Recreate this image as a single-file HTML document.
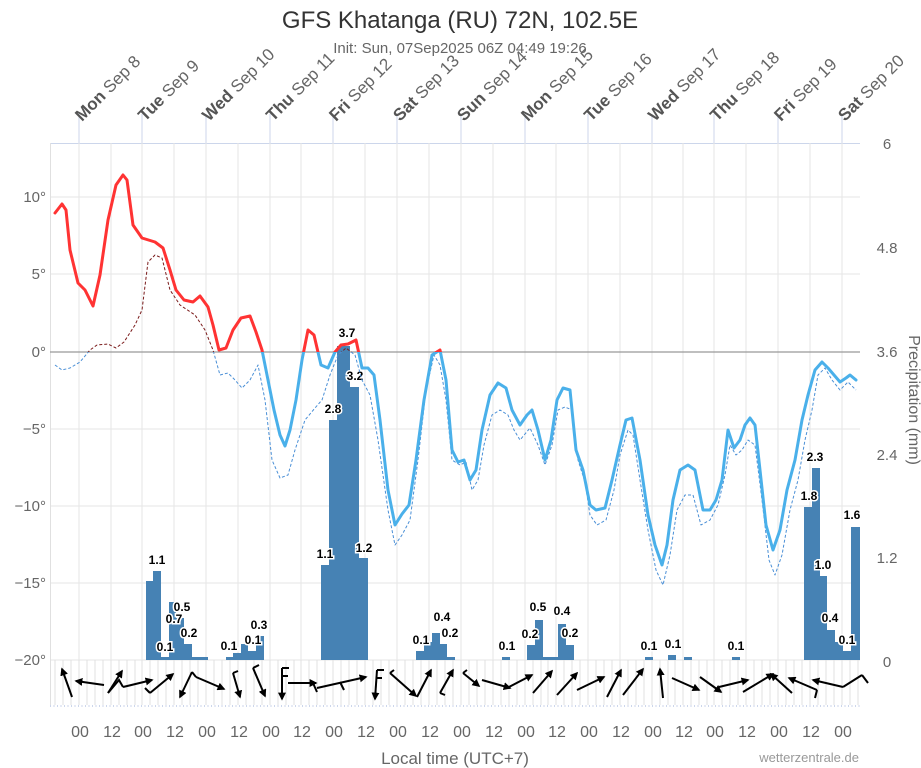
<!DOCTYPE html>
<html><head><meta charset="utf-8"><style>
body{margin:0;background:#fff;}
svg{display:block;font-family:"Liberation Sans","DejaVu Sans",sans-serif;}
</style></head><body>
<svg width="921" height="768" viewBox="0 0 921 768" xmlns="http://www.w3.org/2000/svg">
<defs>
<marker id="ah" viewBox="0 0 10 10" refX="8" refY="5" markerWidth="4" markerHeight="4" orient="auto"><path d="M0,0L10,5L0,10z" fill="#000"/></marker>
<clipPath id="above"><rect x="40" y="100" width="830" height="252"/></clipPath>
<clipPath id="below"><rect x="40" y="352" width="830" height="320"/></clipPath>
<path id="dp" d="M55,365 L62,370 L70,368 L80,362 L90,350 L97,345 L108,344 L116,348 L124,342 L135,325 L142,310 L148,262 L155,255 L162,258 L170,290 L180,305 L195,315 L205,330 L213,350 L220,375 L228,373 L235,380 L242,388 L250,380 L258,365 L265,400 L272,460 L280,478 L288,475 L295,450 L305,420 L315,408 L322,400 L330,375 L338,355 L346,348 L355,355 L362,380 L370,395 L378,440 L388,510 L395,545 L402,535 L410,520 L418,460 L426,390 L434,355 L440,365 L446,400 L452,460 L460,465 L466,462 L472,490 L478,480 L484,445 L492,415 L500,410 L508,415 L514,430 L520,440 L530,428 L538,445 L545,465 L552,445 L558,410 L565,407 L572,410 L578,460 L585,482 L590,515 L597,525 L606,520 L614,490 L620,455 L628,430 L633,435 L640,480 L648,530 L656,570 L663,585 L670,555 L677,510 L685,495 L693,495 L701,525 L710,520 L718,505 L725,475 L730,445 L736,455 L742,450 L748,440 L755,445 L762,500 L769,560 L775,575 L782,555 L790,510 L798,480 L805,440 L812,410 L818,375 L825,368 L832,380 L840,390 L848,382 L856,390"/>
<path id="tt" d="M55,213 L62,204 L66,210 L70,250 L78,283 L85,290 L93,306 L100,275 L108,220 L116,185 L123,175 L127,180 L133,225 L142,238 L155,242 L163,248 L170,270 L176,290 L184,300 L193,302 L200,296 L208,307 L213,325 L219,350 L226,348 L233,330 L241,318 L250,316 L256,332 L262,350 L268,380 L274,410 L280,435 L285,446 L290,430 L296,400 L302,360 L308,330 L314,335 L321,365 L328,368 L335,352 L341,345 L348,344 L356,340 L362,368 L368,368 L374,375 L380,420 L388,490 L395,525 L402,514 L409,505 L416,460 L424,400 L432,355 L440,350 L446,380 L452,450 L458,462 L464,460 L470,480 L476,470 L482,430 L490,395 L498,383 L506,388 L512,410 L520,425 L527,415 L532,410 L538,430 L545,460 L551,440 L557,400 L563,388 L570,390 L576,450 L583,470 L590,505 L596,510 L605,508 L612,480 L620,445 L626,420 L632,418 L640,460 L648,515 L655,545 L662,565 L667,545 L673,500 L680,470 L688,465 L695,470 L703,510 L710,510 L716,500 L722,480 L728,430 L734,448 L740,440 L745,425 L750,418 L755,425 L760,470 L766,525 L773,550 L780,530 L787,490 L795,460 L802,420 L808,395 L815,370 L822,362 L828,368 L834,375 L840,382 L846,378 L850,375 L856,380"/>
</defs>
<text x="460" y="28" text-anchor="middle" font-size="24" fill="#333">GFS Khatanga (RU) 72N, 102.5E</text>
<text x="460" y="53" text-anchor="middle" font-size="15" fill="#666">Init: Sun, 07Sep2025 06Z 04:49 19:26</text>
<g stroke="#e6e6e6" stroke-width="1">
<line x1="50" y1="197" x2="860" y2="197"/><line x1="50" y1="274" x2="860" y2="274"/>
<line x1="50" y1="429" x2="860" y2="429"/><line x1="50" y1="506" x2="860" y2="506"/>
<line x1="50" y1="583" x2="860" y2="583"/><line x1="50" y1="660" x2="860" y2="660"/>
</g>
<line x1="50" y1="143.5" x2="860" y2="143.5" stroke="#ccd6eb"/>
<line x1="50.5" y1="143" x2="50.5" y2="706" stroke="#e0e0e0"/>
<g stroke="#e6e6e6">
<line x1="79" y1="143" x2="79" y2="660"/><line x1="111" y1="143" x2="111" y2="660"/><line x1="142" y1="143" x2="142" y2="660"/><line x1="174" y1="143" x2="174" y2="660"/><line x1="206" y1="143" x2="206" y2="660"/><line x1="238" y1="143" x2="238" y2="660"/><line x1="270" y1="143" x2="270" y2="660"/><line x1="301" y1="143" x2="301" y2="660"/><line x1="333" y1="143" x2="333" y2="660"/><line x1="365" y1="143" x2="365" y2="660"/><line x1="397" y1="143" x2="397" y2="660"/><line x1="429" y1="143" x2="429" y2="660"/><line x1="461" y1="143" x2="461" y2="660"/><line x1="493" y1="143" x2="493" y2="660"/><line x1="525" y1="143" x2="525" y2="660"/><line x1="556" y1="143" x2="556" y2="660"/><line x1="588" y1="143" x2="588" y2="660"/><line x1="620" y1="143" x2="620" y2="660"/><line x1="652" y1="143" x2="652" y2="660"/><line x1="683" y1="143" x2="683" y2="660"/><line x1="714" y1="143" x2="714" y2="660"/><line x1="746" y1="143" x2="746" y2="660"/><line x1="778" y1="143" x2="778" y2="660"/><line x1="810" y1="143" x2="810" y2="660"/><line x1="842" y1="143" x2="842" y2="660"/>
</g>
<g stroke="#ccd6eb">
<line x1="79" y1="114" x2="79" y2="143"/><line x1="142" y1="114" x2="142" y2="143"/><line x1="206" y1="114" x2="206" y2="143"/><line x1="270" y1="114" x2="270" y2="143"/><line x1="333" y1="114" x2="333" y2="143"/><line x1="397" y1="114" x2="397" y2="143"/><line x1="461" y1="114" x2="461" y2="143"/><line x1="525" y1="114" x2="525" y2="143"/><line x1="588" y1="114" x2="588" y2="143"/><line x1="652" y1="114" x2="652" y2="143"/><line x1="714" y1="114" x2="714" y2="143"/><line x1="778" y1="114" x2="778" y2="143"/><line x1="842" y1="114" x2="842" y2="143"/>
</g>
<g font-size="17" fill="#666">
<text transform="translate(82,122) rotate(-45)"><tspan font-weight="bold" fill="#555">Mon</tspan> Sep 8</text>
<text transform="translate(145,122) rotate(-45)"><tspan font-weight="bold" fill="#555">Tue</tspan> Sep 9</text>
<text transform="translate(209,122) rotate(-45)"><tspan font-weight="bold" fill="#555">Wed</tspan> Sep 10</text>
<text transform="translate(273,122) rotate(-45)"><tspan font-weight="bold" fill="#555">Thu</tspan> Sep 11</text>
<text transform="translate(336,122) rotate(-45)"><tspan font-weight="bold" fill="#555">Fri</tspan> Sep 12</text>
<text transform="translate(400,122) rotate(-45)"><tspan font-weight="bold" fill="#555">Sat</tspan> Sep 13</text>
<text transform="translate(464,122) rotate(-45)"><tspan font-weight="bold" fill="#555">Sun</tspan> Sep 14</text>
<text transform="translate(528,122) rotate(-45)"><tspan font-weight="bold" fill="#555">Mon</tspan> Sep 15</text>
<text transform="translate(591,122) rotate(-45)"><tspan font-weight="bold" fill="#555">Tue</tspan> Sep 16</text>
<text transform="translate(655,122) rotate(-45)"><tspan font-weight="bold" fill="#555">Wed</tspan> Sep 17</text>
<text transform="translate(717,122) rotate(-45)"><tspan font-weight="bold" fill="#555">Thu</tspan> Sep 18</text>
<text transform="translate(781,122) rotate(-45)"><tspan font-weight="bold" fill="#555">Fri</tspan> Sep 19</text>
<text transform="translate(845,122) rotate(-45)"><tspan font-weight="bold" fill="#555">Sat</tspan> Sep 20</text>
</g>
<g stroke="#e0e0e0">
<line x1="55" y1="660" x2="55" y2="705"/><line x1="63" y1="660" x2="63" y2="705"/><line x1="71" y1="660" x2="71" y2="705"/><line x1="79" y1="660" x2="79" y2="705"/><line x1="87" y1="660" x2="87" y2="705"/><line x1="95" y1="660" x2="95" y2="705"/><line x1="103" y1="660" x2="103" y2="705"/><line x1="111" y1="660" x2="111" y2="705"/><line x1="119" y1="660" x2="119" y2="705"/><line x1="127" y1="660" x2="127" y2="705"/><line x1="135" y1="660" x2="135" y2="705"/><line x1="142" y1="660" x2="142" y2="705"/><line x1="150" y1="660" x2="150" y2="705"/><line x1="158" y1="660" x2="158" y2="705"/><line x1="166" y1="660" x2="166" y2="705"/><line x1="174" y1="660" x2="174" y2="705"/><line x1="182" y1="660" x2="182" y2="705"/><line x1="190" y1="660" x2="190" y2="705"/><line x1="198" y1="660" x2="198" y2="705"/><line x1="206" y1="660" x2="206" y2="705"/><line x1="214" y1="660" x2="214" y2="705"/><line x1="222" y1="660" x2="222" y2="705"/><line x1="230" y1="660" x2="230" y2="705"/><line x1="238" y1="660" x2="238" y2="705"/><line x1="246" y1="660" x2="246" y2="705"/><line x1="254" y1="660" x2="254" y2="705"/><line x1="262" y1="660" x2="262" y2="705"/><line x1="270" y1="660" x2="270" y2="705"/><line x1="278" y1="660" x2="278" y2="705"/><line x1="286" y1="660" x2="286" y2="705"/><line x1="294" y1="660" x2="294" y2="705"/><line x1="301" y1="660" x2="301" y2="705"/><line x1="309" y1="660" x2="309" y2="705"/><line x1="317" y1="660" x2="317" y2="705"/><line x1="325" y1="660" x2="325" y2="705"/><line x1="333" y1="660" x2="333" y2="705"/><line x1="341" y1="660" x2="341" y2="705"/><line x1="349" y1="660" x2="349" y2="705"/><line x1="357" y1="660" x2="357" y2="705"/><line x1="365" y1="660" x2="365" y2="705"/><line x1="373" y1="660" x2="373" y2="705"/><line x1="381" y1="660" x2="381" y2="705"/><line x1="389" y1="660" x2="389" y2="705"/><line x1="397" y1="660" x2="397" y2="705"/><line x1="405" y1="660" x2="405" y2="705"/><line x1="413" y1="660" x2="413" y2="705"/><line x1="421" y1="660" x2="421" y2="705"/><line x1="429" y1="660" x2="429" y2="705"/><line x1="437" y1="660" x2="437" y2="705"/><line x1="445" y1="660" x2="445" y2="705"/><line x1="453" y1="660" x2="453" y2="705"/><line x1="461" y1="660" x2="461" y2="705"/><line x1="469" y1="660" x2="469" y2="705"/><line x1="477" y1="660" x2="477" y2="705"/><line x1="485" y1="660" x2="485" y2="705"/><line x1="493" y1="660" x2="493" y2="705"/><line x1="501" y1="660" x2="501" y2="705"/><line x1="509" y1="660" x2="509" y2="705"/><line x1="517" y1="660" x2="517" y2="705"/><line x1="525" y1="660" x2="525" y2="705"/><line x1="533" y1="660" x2="533" y2="705"/><line x1="541" y1="660" x2="541" y2="705"/><line x1="548" y1="660" x2="548" y2="705"/><line x1="556" y1="660" x2="556" y2="705"/><line x1="564" y1="660" x2="564" y2="705"/><line x1="572" y1="660" x2="572" y2="705"/><line x1="580" y1="660" x2="580" y2="705"/><line x1="588" y1="660" x2="588" y2="705"/><line x1="596" y1="660" x2="596" y2="705"/><line x1="604" y1="660" x2="604" y2="705"/><line x1="612" y1="660" x2="612" y2="705"/><line x1="620" y1="660" x2="620" y2="705"/><line x1="628" y1="660" x2="628" y2="705"/><line x1="636" y1="660" x2="636" y2="705"/><line x1="644" y1="660" x2="644" y2="705"/><line x1="652" y1="660" x2="652" y2="705"/><line x1="660" y1="660" x2="660" y2="705"/><line x1="668" y1="660" x2="668" y2="705"/><line x1="675" y1="660" x2="675" y2="705"/><line x1="683" y1="660" x2="683" y2="705"/><line x1="691" y1="660" x2="691" y2="705"/><line x1="699" y1="660" x2="699" y2="705"/><line x1="707" y1="660" x2="707" y2="705"/><line x1="714" y1="660" x2="714" y2="705"/><line x1="722" y1="660" x2="722" y2="705"/><line x1="730" y1="660" x2="730" y2="705"/><line x1="738" y1="660" x2="738" y2="705"/><line x1="746" y1="660" x2="746" y2="705"/><line x1="754" y1="660" x2="754" y2="705"/><line x1="762" y1="660" x2="762" y2="705"/><line x1="770" y1="660" x2="770" y2="705"/><line x1="778" y1="660" x2="778" y2="705"/><line x1="786" y1="660" x2="786" y2="705"/><line x1="794" y1="660" x2="794" y2="705"/><line x1="802" y1="660" x2="802" y2="705"/><line x1="810" y1="660" x2="810" y2="705"/><line x1="818" y1="660" x2="818" y2="705"/><line x1="826" y1="660" x2="826" y2="705"/><line x1="834" y1="660" x2="834" y2="705"/><line x1="842" y1="660" x2="842" y2="705"/><line x1="850" y1="660" x2="850" y2="705"/><line x1="858" y1="660" x2="858" y2="705"/>
</g>
<line x1="50" y1="706" x2="860" y2="706" stroke="#ccd6eb" stroke-width="2" stroke-dasharray="1 2.5"/>
<line x1="50" y1="352" x2="860" y2="352" stroke="#999" stroke-width="1.2"/>
<g fill="#4682b4">
<rect x="146" y="581" width="7" height="79"/><rect x="153" y="571" width="8" height="89"/><rect x="161" y="657" width="8" height="3"/><rect x="169" y="602" width="7" height="58"/><rect x="176" y="618" width="8" height="42"/><rect x="184" y="644" width="8" height="16"/><rect x="192" y="657" width="16" height="3"/>
<rect x="226" y="657" width="7" height="3"/><rect x="233" y="653" width="8" height="7"/><rect x="241" y="644" width="7" height="16"/><rect x="248" y="651" width="8" height="9"/><rect x="256" y="636" width="8" height="24"/>
<rect x="321" y="565" width="8" height="95"/><rect x="329" y="420" width="8" height="240"/><rect x="337" y="346" width="13" height="314"/><rect x="350" y="387" width="9" height="273"/><rect x="359" y="558" width="9" height="102"/>
<rect x="416" y="651" width="8" height="9"/><rect x="424" y="642" width="8" height="18"/><rect x="432" y="633" width="8" height="27"/><rect x="440" y="644" width="7" height="16"/><rect x="447" y="657" width="8" height="3"/>
<rect x="502" y="657" width="8" height="3"/><rect x="527" y="645" width="8" height="15"/><rect x="535" y="620" width="8" height="40"/><rect x="543" y="657" width="15" height="3"/><rect x="558" y="624" width="8" height="36"/><rect x="566" y="645" width="8" height="15"/>
<rect x="645" y="657" width="8" height="3"/><rect x="668" y="655" width="8" height="5"/><rect x="684" y="657" width="8" height="3"/><rect x="732" y="657" width="8" height="3"/>
<rect x="804" y="507" width="8" height="153"/><rect x="812" y="468" width="8" height="192"/><rect x="820" y="576" width="7" height="84"/><rect x="827" y="630" width="8" height="30"/><rect x="835" y="642" width="8" height="18"/><rect x="843" y="651" width="8" height="9"/><rect x="851" y="527" width="9" height="133"/>
</g>
<g font-size="12" font-weight="bold" fill="#000" stroke="#fff" stroke-width="3" paint-order="stroke" text-anchor="middle">
<text x="157" y="564">1.1</text><text x="165" y="651">0.1</text><text x="174" y="623">0.7</text><text x="182" y="611">0.5</text><text x="189" y="637">0.2</text>
<text x="229" y="650">0.1</text><text x="253" y="644">0.1</text><text x="259" y="629">0.3</text>
<text x="325" y="558">1.1</text><text x="333" y="413">2.8</text><text x="347" y="337">3.7</text><text x="355" y="380">3.2</text><text x="364" y="552">1.2</text>
<text x="421" y="644">0.1</text><text x="442" y="621">0.4</text><text x="450" y="637">0.2</text>
<text x="507" y="650">0.1</text><text x="530" y="638">0.2</text><text x="538" y="611">0.5</text><text x="562" y="615">0.4</text><text x="570" y="637">0.2</text>
<text x="649" y="650">0.1</text><text x="673" y="648">0.1</text><text x="736" y="650">0.1</text>
<text x="809" y="500">1.8</text><text x="815" y="461">2.3</text><text x="823" y="569">1.0</text><text x="830" y="622">0.4</text><text x="847" y="644">0.1</text><text x="852" y="519">1.6</text>
</g>
<g fill="none" stroke-width="1" stroke-dasharray="3 2" stroke-linejoin="round">
<use href="#dp" stroke="#4a8fd6" clip-path="url(#below)"/>
<use href="#dp" stroke="#7a1a1a" clip-path="url(#above)"/>
</g>
<g fill="none" stroke-width="3" stroke-linejoin="round" stroke-linecap="round">
<use href="#tt" stroke="#4ab0ea" clip-path="url(#below)"/>
<use href="#tt" stroke="#ff3333" clip-path="url(#above)"/>
</g>
<g stroke="#000" stroke-width="2" marker-end="url(#ah)">
<line x1="72" y1="697" x2="62" y2="669"/><line x1="104" y1="685" x2="76" y2="681"/><line x1="108" y1="693" x2="122" y2="671"/><line x1="123" y1="687" x2="152" y2="680"/><line x1="150" y1="693" x2="173" y2="674"/><line x1="192" y1="672" x2="180" y2="697"/><line x1="196" y1="677" x2="224" y2="689"/><line x1="233" y1="673" x2="240" y2="697"/><line x1="253" y1="668" x2="265" y2="696"/><line x1="282" y1="668" x2="282" y2="699"/><line x1="288" y1="683" x2="316" y2="683"/><line x1="317" y1="688" x2="366" y2="677"/><line x1="377" y1="670" x2="375" y2="699"/><line x1="390" y1="673" x2="416" y2="696"/><line x1="417" y1="697" x2="431" y2="670"/><line x1="440" y1="693" x2="453" y2="670"/><line x1="463" y1="673" x2="479" y2="686"/>
<line x1="482" y1="680" x2="510" y2="688"/><line x1="507" y1="688" x2="532" y2="675"/><line x1="533" y1="693" x2="552" y2="671"/><line x1="557" y1="695" x2="577" y2="673"/><line x1="577" y1="690" x2="604" y2="677"/><line x1="607" y1="697" x2="621" y2="670"/><line x1="623" y1="695" x2="643" y2="669"/><line x1="663" y1="698" x2="660" y2="669"/><line x1="672" y1="678" x2="699" y2="690"/><line x1="700" y1="677" x2="721" y2="692"/><line x1="719" y1="687" x2="748" y2="680"/><line x1="743" y1="692" x2="773" y2="674"/><line x1="792" y1="693" x2="771" y2="674"/><line x1="817" y1="690" x2="789" y2="678"/><line x1="843" y1="687" x2="813" y2="680"/>
</g>
<g stroke="#000" stroke-width="2" fill="none">
<polyline points="123,687 119,680 108,693"/><line x1="150" y1="693" x2="145" y2="688"/><line x1="196" y1="677" x2="192" y2="672"/><line x1="233" y1="673" x2="238" y2="671"/><line x1="253" y1="668" x2="259" y2="665"/><line x1="282" y1="668" x2="289" y2="668"/><line x1="282" y1="676" x2="288" y2="676"/><line x1="313" y1="683" x2="317" y2="692"/><line x1="340" y1="682" x2="344" y2="690"/><line x1="377" y1="670" x2="384" y2="670"/><line x1="377" y1="678" x2="382" y2="678"/><line x1="390" y1="673" x2="394" y2="670"/><line x1="440" y1="693" x2="445" y2="695"/><line x1="463" y1="673" x2="467" y2="670"/><line x1="843" y1="687" x2="862" y2="675"/><line x1="862" y1="675" x2="868" y2="683"/><line x1="817" y1="690" x2="815" y2="698"/>
</g>
<g font-size="15" fill="#666" text-anchor="end">
<text x="46" y="202">10°</text><text x="46" y="279">5°</text><text x="46" y="357">0°</text><text x="46" y="434">−5°</text><text x="46" y="511">−10°</text><text x="46" y="588">−15°</text><text x="46" y="665">−20°</text>
</g>
<g font-size="15" fill="#666" text-anchor="middle">
<text x="887" y="149">6</text><text x="887" y="253">4.8</text><text x="887" y="357">3.6</text><text x="887" y="460">2.4</text><text x="887" y="563">1.2</text><text x="887" y="667">0</text>
</g>
<text transform="translate(909,400) rotate(90)" text-anchor="middle" font-size="16" fill="#666">Precipitation (mm)</text>
<g font-size="16" fill="#666" text-anchor="middle">
<text x="80" y="737">00</text><text x="112" y="737">12</text><text x="143" y="737">00</text><text x="175" y="737">12</text><text x="207" y="737">00</text><text x="239" y="737">12</text><text x="271" y="737">00</text><text x="302" y="737">12</text><text x="334" y="737">00</text><text x="366" y="737">12</text><text x="398" y="737">00</text><text x="430" y="737">12</text><text x="462" y="737">00</text><text x="494" y="737">12</text><text x="526" y="737">00</text><text x="557" y="737">12</text><text x="589" y="737">00</text><text x="621" y="737">12</text><text x="653" y="737">00</text><text x="684" y="737">12</text><text x="715" y="737">00</text><text x="747" y="737">12</text><text x="779" y="737">00</text><text x="811" y="737">12</text><text x="843" y="737">00</text>
</g>
<text x="455" y="764" text-anchor="middle" font-size="17" fill="#666">Local time (UTC+7)</text>
<text x="859" y="762" text-anchor="end" font-size="13" fill="#999">wetterzentrale.de</text>
</svg>
</body></html>
